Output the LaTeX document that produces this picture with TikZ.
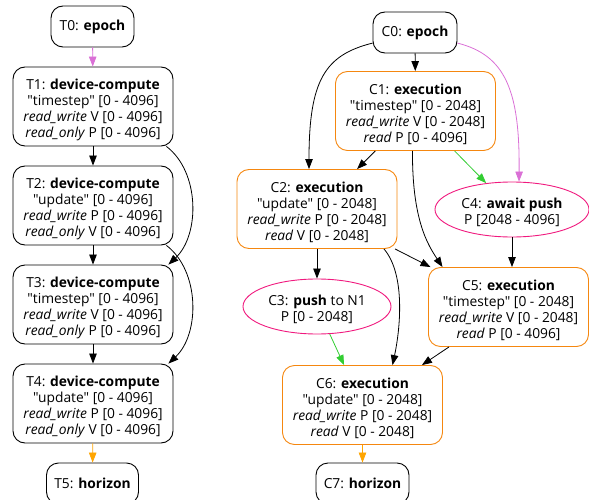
\documentclass[tikz,border=0pt]{standalone}
\usepackage{fontspec}
\setmainfont{Open Sans}[Ligatures=TeXOff]
\usetikzlibrary{shapes.geometric,arrows.meta}
\definecolor{borange}{HTML}{F5870F}
\definecolor{eorange}{HTML}{FFA500}
\definecolor{pinkc}{HTML}{F0197E}
\definecolor{violetc}{HTML}{DA70D6}
\definecolor{greenc}{HTML}{32CD32}
\tikzset{
  lbl/.style={font=\fontsize{13.8}{16}\selectfont, align=center, inner sep=0pt},
  txt/.style={label={[lbl, yshift=-3pt]center:{#1}}},
  bigbox/.style={draw, line width=0.9pt, rounded corners=12pt, minimum width=160pt, minimum height=79pt, inner sep=0pt},
  smallbox/.style={lbl, draw, line width=0.9pt, rounded corners=12pt, minimum height=41pt},
  orbox/.style={bigbox, draw=borange},
  ell/.style={draw=pinkc, ellipse, line width=0.9pt, minimum width=#1, minimum height=55pt, inner sep=0pt},
  arr/.style={-{Triangle[length=10pt,width=7.5pt]}, line width=0.8pt},
}
\begin{document}
\begin{tikzpicture}[x=1pt,y=-1pt]
\useasboundingbox (0,0) rectangle (589,500);
% left column
\node[smallbox, minimum width=83pt] (T0) at (92.5,26.5) {T0: \textbf{epoch}};
\node[bigbox, txt={T1: \textbf{device-compute}\\"timestep" [0 - 4096]\\\textit{read\_write} V [0 - 4096]\\\textit{read\_only} P [0 - 4096]}] (T1) at (93,106.5) {};
\node[bigbox, txt={T2: \textbf{device-compute}\\"update" [0 - 4096]\\\textit{read\_write} P [0 - 4096]\\\textit{read\_only} V [0 - 4096]}] (T2) at (93,205.5) {};
\node[bigbox, txt={T3: \textbf{device-compute}\\"timestep" [0 - 4096]\\\textit{read\_write} V [0 - 4096]\\\textit{read\_only} P [0 - 4096]}] (T3) at (93,304.5) {};
\node[bigbox, txt={T4: \textbf{device-compute}\\"update" [0 - 4096]\\\textit{read\_write} P [0 - 4096]\\\textit{read\_only} V [0 - 4096]}] (T4) at (93,403.5) {};
\node[smallbox, minimum width=92pt] (T5) at (92.5,483.5) {T5: \textbf{horizon}};
% right column
\node[smallbox, minimum width=84pt] (C0) at (415,32.5) {C0: \textbf{epoch}};
\node[orbox, txt={C1: \textbf{execution}\\"timestep" [0 - 2048]\\\textit{read\_write} V [0 - 2048]\\\textit{read} P [0 - 4096]}] (C1) at (415.5,111) {};
\node[orbox, txt={C2: \textbf{execution}\\"update" [0 - 2048]\\\textit{read\_write} P [0 - 2048]\\\textit{read} V [0 - 2048]}] (C2) at (317,209) {};
\node[ell=154pt, txt={C4: \textbf{await push}\\P [2048 - 4096]}] (C4) at (512,209.5) {};
\node[ell=148pt, txt={C3: \textbf{push} to N1\\P [0 - 2048]}] (C3) at (317,306.5) {};
\node[orbox, txt={C5: \textbf{execution}\\"timestep" [0 - 2048]\\\textit{read\_write} V [0 - 2048]\\\textit{read} P [0 - 4096]}] (C5) at (508.5,307) {};
\node[orbox, txt={C6: \textbf{execution}\\"update" [0 - 2048]\\\textit{read\_write} P [0 - 2048]\\\textit{read} V [0 - 2048]}] (C6) at (362.5,405) {};
\node[smallbox, minimum width=93pt] (C7) at (362.5,483.5) {C7: \textbf{horizon}};
% left edges
\draw[arr, violetc] (T0) -- (T1);
\draw[arr] (T1) -- (T2);
\draw[arr] (T2) -- (T3);
\draw[arr] (T3) -- (T4);
\draw[arr, eorange] (T4) -- (T5);
\draw[arr] ([xshift=-7pt]T1.south east) .. controls (200,172) and (200,235) .. ([xshift=-5pt]T3.north east);
\draw[arr] ([xshift=-7pt]T2.south east) .. controls (200,271) and (200,334) .. ([xshift=-5pt]T4.north east);
% right edges
\draw[arr] (C0) -- (C1);
\draw[arr] (C0.194) .. controls (325,55) and (309,80) .. ([xshift=-8pt]C2.north);
\draw[arr, violetc] (C0.-14) .. controls (505,55) and (520,90) .. ([xshift=7pt]C4.north);
\draw[arr] (C1) -- (C2);
\draw[arr, greenc] (C1) -- (C4);
\draw[arr] ([xshift=-3pt]C1.south) .. controls (412,220) and (428,245) .. ([xshift=-66pt]C5.north);
\draw[arr] (C2) -- (C3);
\draw[arr] (C2) -- (C5);
\draw[arr] ([xshift=67pt]C2.south) .. controls (406,275) and (400,330) .. ([xshift=30pt]C6.north);
\draw[arr] (C4.south) -- (C4.south |- C5.north);
\draw[arr, greenc] (C3) -- (C6);
\draw[arr] (C5) -- (C6);
\draw[arr, eorange] (C6) -- (C7);
\end{tikzpicture}
\end{document}
